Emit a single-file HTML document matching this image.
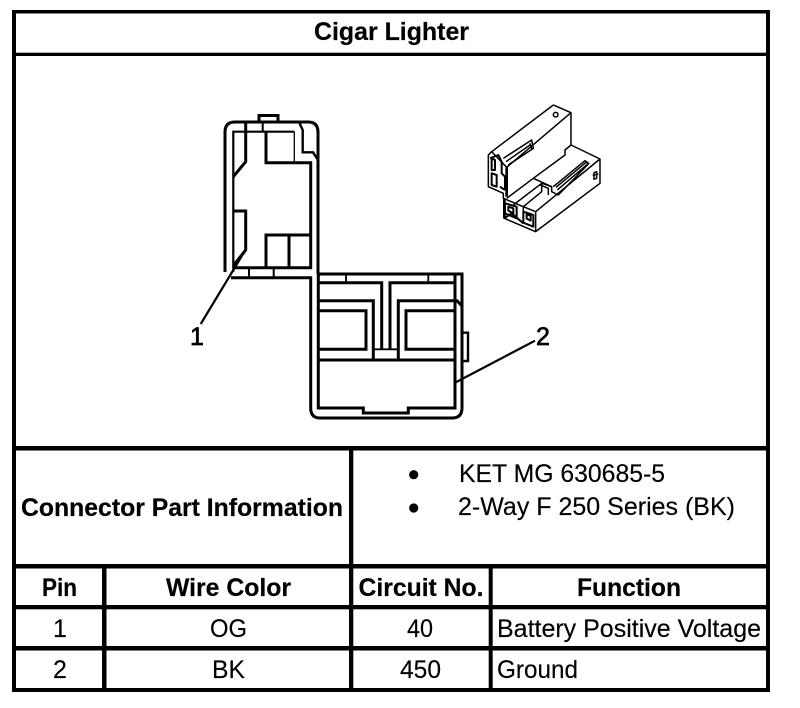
<!DOCTYPE html>
<html><head><meta charset="utf-8"><style>
html,body{margin:0;padding:0;background:#fff}
svg{display:block}
text{font-family:"Liberation Sans",Arial,sans-serif;font-size:25px;fill:#000;stroke:#000;stroke-width:.15}
.b{font-weight:bold;stroke-width:.2}
</style></head><body>
<svg width="800" height="708" viewBox="0 0 800 708" xmlns="http://www.w3.org/2000/svg">
<rect width="800" height="708" fill="#fff"/>
<!-- table -->
<g fill="#000">
<rect x="12" y="10" width="758" height="3.5"/>
<rect x="12" y="10" width="4" height="682"/>
<rect x="766" y="10" width="4" height="682"/>
<rect x="12" y="688" width="758" height="4"/>
<rect x="12" y="52.7" width="758" height="3.3"/>
<rect x="12" y="446" width="758" height="4.5"/>
<rect x="12" y="564" width="758" height="4.5"/>
<rect x="12" y="605" width="758" height="4.3"/>
<rect x="12" y="646" width="758" height="4.5"/>
<rect x="349" y="446" width="4.3" height="246"/>
<rect x="102" y="564" width="4.5" height="128"/>
<rect x="488.7" y="564" width="4" height="128"/>
<circle cx="413.7" cy="474.7" r="4.6"/>
<circle cx="413.7" cy="508" r="4.6"/>
</g>
<!-- text -->
<text class="b" x="314" y="40" textLength="155" lengthAdjust="spacingAndGlyphs">Cigar Lighter</text>
<text class="b" x="21" y="516" textLength="322" lengthAdjust="spacingAndGlyphs">Connector Part Information</text>
<text x="459" y="482" textLength="206" lengthAdjust="spacingAndGlyphs">KET MG 630685-5</text>
<text x="458" y="515" textLength="277" lengthAdjust="spacingAndGlyphs">2-Way F 250 Series (BK)</text>
<text class="b" x="42" y="596" textLength="35" lengthAdjust="spacingAndGlyphs">Pin</text>
<text class="b" x="166" y="596" textLength="125" lengthAdjust="spacingAndGlyphs">Wire Color</text>
<text class="b" x="358.5" y="596" textLength="125" lengthAdjust="spacingAndGlyphs">Circuit No.</text>
<text class="b" x="577" y="596" textLength="104" lengthAdjust="spacingAndGlyphs">Function</text>
<text x="53" y="637">1</text>
<text x="210" y="637" textLength="37" lengthAdjust="spacingAndGlyphs">OG</text>
<text x="407" y="637" textLength="26" lengthAdjust="spacingAndGlyphs">40</text>
<text x="497" y="637" textLength="264" lengthAdjust="spacingAndGlyphs">Battery Positive Voltage</text>
<text x="53" y="678">2</text>
<text x="212" y="678" textLength="33" lengthAdjust="spacingAndGlyphs">BK</text>
<text x="400" y="678" textLength="41" lengthAdjust="spacingAndGlyphs">450</text>
<text x="497" y="678" textLength="81" lengthAdjust="spacingAndGlyphs">Ground</text>
<text x="190" y="345" style="stroke-width:.7">1</text>
<text x="536" y="345" style="stroke-width:.7">2</text>
<!-- connector drawing -->
<g fill="none" stroke="#000" stroke-width="3">
<path d="M225 272V132Q225 122 235 122H308Q318 122 318 132V274"/>
<path d="M259 122V115.500H278V122"/>
<path d="M233.300 272V131.700H294.300" stroke-width="2.200"/>
<path d="M294.300 131.700V162" stroke-width="1.300"/>
<path d="M245.700 122V161.700L233.300 176.700"/>
<path d="M262.700 122V131.700" stroke-width="2"/>
<path d="M266 131.700V162.700H310.700V267.700H233.300"/>
<path d="M233.300 211H245.700V250L233.300 265.700"/>
<path d="M266 267.700V235H310.700"/>
<path d="M289 235V267.700"/>
<path d="M249 267.700V277.700M273.700 267.700V277.700" stroke-width="2"/>
<path d="M231 277.700H310.700V408Q310.700 418 320 418H452Q462 418 462 408V274H318"/>
<path d="M299 122L302.700 130V152.300H313L318 160" stroke-width="2.400"/>
<path d="M318.300 274V408H363.300V413H408.300V408H455V274"/>
<path d="M318.300 282.700H381.700V349M455 282.700H390V349"/>
<path d="M346 274V282.700M428.300 274V282.700" stroke-width="1.800"/>
<path d="M318.300 300.700H373.300V360M398.300 360V300.700H457L462 306"/>
<path d="M318.300 310.700H366V349.300H318.300"/>
<path d="M455 310.700H406V349.300H455"/>
<path d="M318.300 360H455"/>
<path d="M373.300 349.300H398.300" stroke-width="1.800"/>
<path d="M463 332.700H468V361H463" stroke-width="2.400"/>
<path d="M245 250.700L200.700 324" stroke-width="2.200"/>
<path d="M455 382.700L535 340.700" stroke-width="2.200"/>
</g>
<!-- 3D view -->
<g transform="translate(470 90) scale(.3333)" fill="none" stroke="#000" stroke-width="4.500" stroke-linejoin="round">
<path d="M250 45L303 68V165L390 207V280L197 425L103 385V325"/>
<path d="M250 45L65 185L55 195V290L100 310V325L160 350"/>
<path d="M303 68L110 232L65 185"/>
<path d="M110 232V320" stroke-width="8"/>
<path d="M390 207L197 365V425"/>
<path d="M197 365L160 350V400"/>
<path d="M100 205L185 150L190 175L115 225M108 215L180 165M180 160L186 180"/>
<path d="M303 165L285 180V195L190 265L110 325"/>
<path d="M190 265L245 290V305L265 315L355 222L345 212L250 290M262 300L358 218M258 292L352 214" />
<path d="M130 345L215 280V305L160 350M215 280L245 290M210 285L235 295V315"/>
<path d="M60 205L85 195L95 215V250L105 260V300M65 205V240H75V210ZM65 250V285L80 290V255ZM90 290L105 300" stroke-width="6"/>
<path d="M105 340L140 350V385L105 370ZM115 350L130 355V370L115 362Z" stroke-width="6"/>
<path d="M160 365L190 375V410L160 398ZM170 372L182 378V392L170 386Z" stroke-width="6"/>
<path d="M103 385L125 370L160 400" stroke-width="6"/>
<path d="M103 325V385" stroke-width="8"/>
<circle cx="257" cy="74" r="7"/>
<path d="M372 248L380 245V265L372 268ZM368 256L385 252"/>
</g>
</svg>
</body></html>
